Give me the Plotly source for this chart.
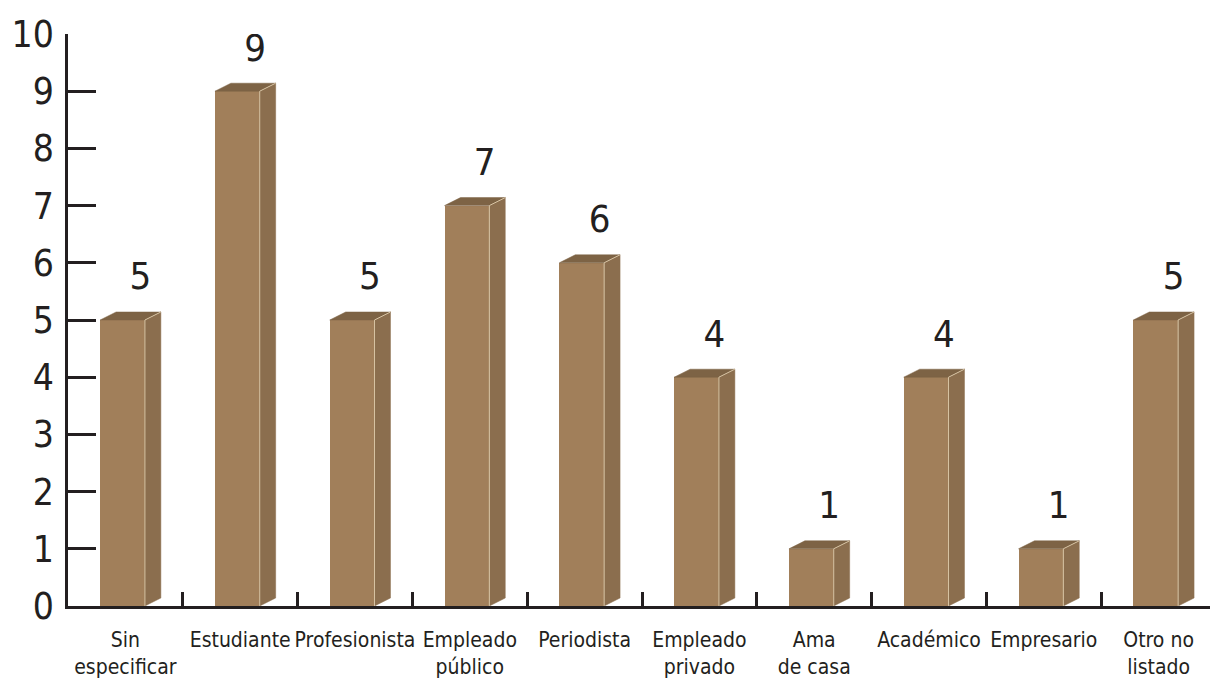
import plotly.graph_objects as go

categories = ["Sin<br>especificar", "Estudiante", "Profesionista", "Empleado<br>público",
              "Periodista", "Empleado<br>privado", "Ama<br>de casa", "Académico",
              "Empresario", "Otro no<br>listado"]
values = [5, 9, 5, 7, 6, 4, 1, 4, 1, 5]
y_ticks = list(range(0, 11))

FONT = "Liberation Sans Narrow, DejaVu Sans Condensed, Arial Narrow, sans-serif"
INK = "#231f20"
FRONT = "#a17f5a"
SIDE = "#8b6e4e"
TOP = "#7d6345"
EDGE = "#d8c4a4"

shift = -0.025
bw = 0.39
dx = 0.139
dy = 0.14

xpos = [i + shift for i in range(len(values))]

fig = go.Figure()

fig.add_trace(go.Bar(x=xpos, y=values, width=bw, marker=dict(color=FRONT, line=dict(width=0)),
                     hoverinfo="skip", showlegend=False))

for xc, v in zip(xpos, values):
    x0 = xc - bw / 2
    x1 = xc + bw / 2
    # side face
    fig.add_trace(go.Scatter(x=[x1, x1 + dx, x1 + dx, x1, x1], y=[0, dy, v + dy, v, 0],
                             fill="toself", fillcolor=SIDE, mode="lines",
                             line=dict(color=SIDE, width=0.5), hoverinfo="skip", showlegend=False))
    # top face
    fig.add_trace(go.Scatter(x=[x0, x1, x1 + dx, x0 + dx, x0], y=[v, v, v + dy, v + dy, v],
                             fill="toself", fillcolor=TOP, mode="lines",
                             line=dict(color=TOP, width=0.5), hoverinfo="skip", showlegend=False))
    # light edge
    fig.add_trace(go.Scatter(x=[x1, x1, x1 + dx], y=[0, v, v + dy], mode="lines",
                             line=dict(color=EDGE, width=1), hoverinfo="skip", showlegend=False))

# value labels
fig.add_trace(go.Scatter(x=[x + 0.155 for x in xpos], y=[v + 0.7 for v in values], mode="text",
                         text=[str(v) for v in values],
                         textfont=dict(family=FONT, size=38, color=INK),
                         textposition="middle center", hoverinfo="skip", showlegend=False))

# invisible trace for boundary tick axis
fig.add_trace(go.Scatter(x=[-0.5, 9.5], y=[0, 0], xaxis="x2", mode="markers",
                         marker=dict(opacity=0), hoverinfo="skip", showlegend=False))

n = len(values)
fig.update_layout(
    width=1210, height=670,
    margin=dict(l=60, r=2, t=26, b=72),
    paper_bgcolor="white", plot_bgcolor="white",
    bargap=0,
    xaxis=dict(range=[-0.5, n - 0.5], tickvals=list(range(n)), ticktext=categories,
               ticks="", showline=True, linecolor=INK, linewidth=2.5, showgrid=False,
               zeroline=False, tickfont=dict(family=FONT, size=21, color=INK),
               ticklabelstandoff=13, automargin=False),
    xaxis2=dict(range=[-0.5, n - 0.5], overlaying="x", anchor="y", side="bottom",
                tickvals=[i + 0.5 for i in range(n)], ticks="inside", ticklen=14,
                tickwidth=2.5, tickcolor=INK, showticklabels=False, showgrid=False,
                zeroline=False, showline=False, automargin=False),
    yaxis=dict(range=[0, 10], tickvals=y_ticks, ticks="inside", ticklen=28, tickwidth=2.5,
               tickcolor=INK, showline=True, linecolor=INK, linewidth=2.5, showgrid=False,
               zeroline=False, tickfont=dict(family=FONT, size=37, color=INK),
               ticklabelstandoff=4, automargin=False),
)

fig.write_html("out.html")
